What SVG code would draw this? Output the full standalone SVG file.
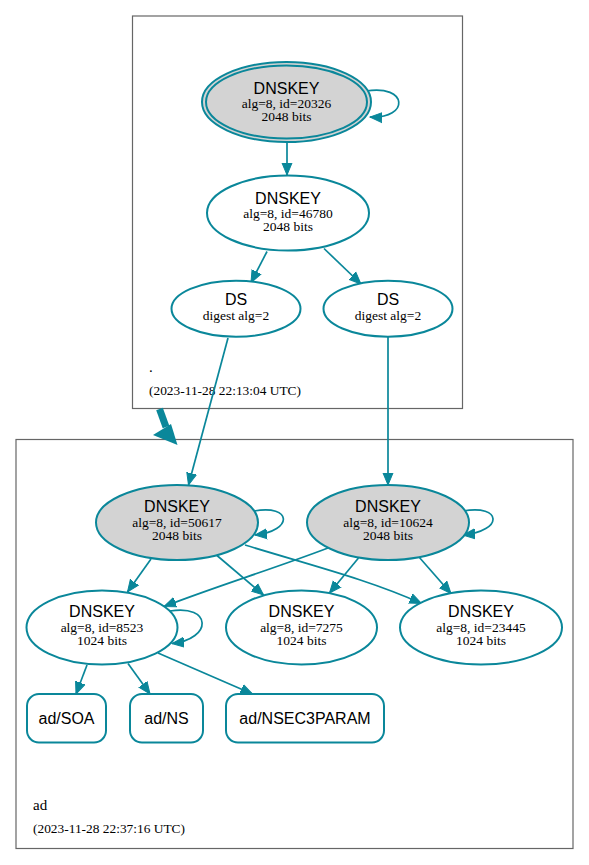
<svg xmlns="http://www.w3.org/2000/svg" width="589" height="865" viewBox="0 0 589 865">
<style>
.cl{fill:#fff;stroke:#666;stroke-width:1.2}
.n{fill:#fff;stroke:#0a879a;stroke-width:2}
.g{fill:#d3d3d3;stroke:#0a879a;stroke-width:2}
.e{fill:none;stroke:#0a879a;stroke-width:1.7}
.t1{font-family:"Liberation Sans",Arial,sans-serif;font-size:16px;text-anchor:middle;fill:#000}
.t2{font-family:"Liberation Serif","Times New Roman",serif;font-size:13.5px;text-anchor:middle;fill:#000}
.lb{font-family:"Liberation Serif","Times New Roman",serif;fill:#000}
</style>
<defs>
<marker id="a" markerUnits="userSpaceOnUse" markerWidth="14" markerHeight="12" refX="12" refY="5" orient="auto" viewBox="0 0 14 10">
<path d="M0,0 L12,5 L0,10 Z" fill="#0a879a" stroke="#0a879a" stroke-width="1"/>
</marker>
</defs>
<rect width="589" height="865" fill="#fff"/>
<g id="cluster_root">
<rect class="cl" x="132.5" y="16" width="330" height="392.5"/>
<text class="lb" x="149" y="372" font-size="15">.</text>
<text class="lb" x="149" y="395" font-size="13.4">(2023-11-28 22:13:04 UTC)</text>
</g>
<g id="cluster_ad">
<rect class="cl" x="16" y="439.5" width="557" height="409"/>
<text class="lb" x="33" y="810" font-size="15">ad</text>
<text class="lb" x="33" y="833" font-size="13.4">(2023-11-28 22:37:16 UTC)</text>
</g>
<g id="edges">
<path class="e" d="M287,141.5 L287,175" marker-end="url(#a)"/>
<path class="e" d="M366,91 C408,84 410,119 370,117" marker-end="url(#a)"/>
<path class="e" d="M267,251.5 L251,282.5" marker-end="url(#a)"/>
<path class="e" d="M324,248.5 L361,284" marker-end="url(#a)"/>
<path class="e" d="M228,338 L188.5,485" marker-end="url(#a)"/>
<path class="e" d="M388,337 L388,485" marker-end="url(#a)"/>
<path class="e" d="M254,511 C292,504 294,531 255,535" marker-end="url(#a)"/>
<path class="e" d="M463,511 C502,504 504,531 463,535" marker-end="url(#a)"/>
<path class="e" d="M151,559 L127.5,592" marker-end="url(#a)"/>
<path class="e" d="M217,555.5 L263.5,595" marker-end="url(#a)"/>
<path class="e" d="M245,545 C310,565 370,580 421.5,603.5" marker-end="url(#a)"/>
<path class="e" d="M328,548 C270,570 220,585 164,606.5" marker-end="url(#a)"/>
<path class="e" d="M358.5,558 L329.5,593" marker-end="url(#a)"/>
<path class="e" d="M419,557 L451,593.5" marker-end="url(#a)"/>
<path class="e" d="M170,611 C212,604 213,639 172,643.5" marker-end="url(#a)"/>
<path class="e" d="M87,665 L76,694" marker-end="url(#a)"/>
<path class="e" d="M128,663.5 L150,694" marker-end="url(#a)"/>
<path class="e" d="M158,653 L252.5,694" marker-end="url(#a)"/>
<line x1="159.5" y1="409" x2="166" y2="427" stroke="#0a879a" stroke-width="7"/>
<polygon points="153,435 171,424 177.5,445" fill="#0a879a"/>
</g>
<g id="n20326">
<ellipse class="g" cx="286.5" cy="102" rx="84.5" ry="40"/>
<ellipse fill="none" stroke="#0a879a" stroke-width="2" cx="286.5" cy="102" rx="80.5" ry="36.5"/>
<text class="t1" x="286.5" y="93.5">DNSKEY</text>
<text class="t2" x="286.5" y="108">alg=8, id=20326</text>
<text class="t2" x="286.5" y="121.3">2048 bits</text>
</g>
<g id="n46780">
<ellipse class="n" cx="288" cy="213" rx="81" ry="37.5"/>
<text class="t1" x="288" y="203.5">DNSKEY</text>
<text class="t2" x="288" y="218">alg=8, id=46780</text>
<text class="t2" x="288" y="231.3">2048 bits</text>
</g>
<g id="ds1">
<ellipse class="n" cx="236" cy="308.7" rx="64.5" ry="28"/>
<text class="t1" x="236" y="305.2">DS</text>
<text class="t2" x="236" y="319.5">digest alg=2</text>
</g>
<g id="ds2">
<ellipse class="n" cx="388" cy="308.7" rx="64.5" ry="28"/>
<text class="t1" x="388" y="305.2">DS</text>
<text class="t2" x="388" y="319.5">digest alg=2</text>
</g>
<g id="n50617">
<ellipse class="g" cx="177" cy="522.5" rx="81" ry="37.5"/>
<text class="t1" x="177" y="512.2">DNSKEY</text>
<text class="t2" x="177" y="526.7">alg=8, id=50617</text>
<text class="t2" x="177" y="540.3">2048 bits</text>
</g>
<g id="n10624">
<ellipse class="g" cx="388" cy="522.5" rx="81" ry="37.5"/>
<text class="t1" x="388" y="512.2">DNSKEY</text>
<text class="t2" x="388" y="526.7">alg=8, id=10624</text>
<text class="t2" x="388" y="540.3">2048 bits</text>
</g>
<g id="n8523">
<ellipse class="n" cx="102" cy="627.5" rx="75.5" ry="37"/>
<text class="t1" x="102" y="617.2">DNSKEY</text>
<text class="t2" x="102" y="631.5">alg=8, id=8523</text>
<text class="t2" x="102" y="644.8">1024 bits</text>
</g>
<g id="n7275">
<ellipse class="n" cx="301.5" cy="627.5" rx="75.5" ry="37"/>
<text class="t1" x="301.5" y="617.2">DNSKEY</text>
<text class="t2" x="301.5" y="631.5">alg=8, id=7275</text>
<text class="t2" x="301.5" y="644.8">1024 bits</text>
</g>
<g id="n23445">
<ellipse class="n" cx="481" cy="627.5" rx="81" ry="37"/>
<text class="t1" x="481" y="617.2">DNSKEY</text>
<text class="t2" x="481" y="631.5">alg=8, id=23445</text>
<text class="t2" x="481" y="644.8">1024 bits</text>
</g>
<g id="soa">
<rect class="n" x="27" y="694" width="79" height="48.5" rx="12"/>
<text class="t1" x="66.5" y="723.5">ad/SOA</text>
</g>
<g id="ns">
<rect class="n" x="130" y="694" width="73" height="48.5" rx="12"/>
<text class="t1" x="166.5" y="723.5">ad/NS</text>
</g>
<g id="nsec3param">
<rect class="n" x="226" y="694" width="158" height="48.5" rx="12"/>
<text class="t1" x="305" y="723.5">ad/NSEC3PARAM</text>
</g>
</svg>
